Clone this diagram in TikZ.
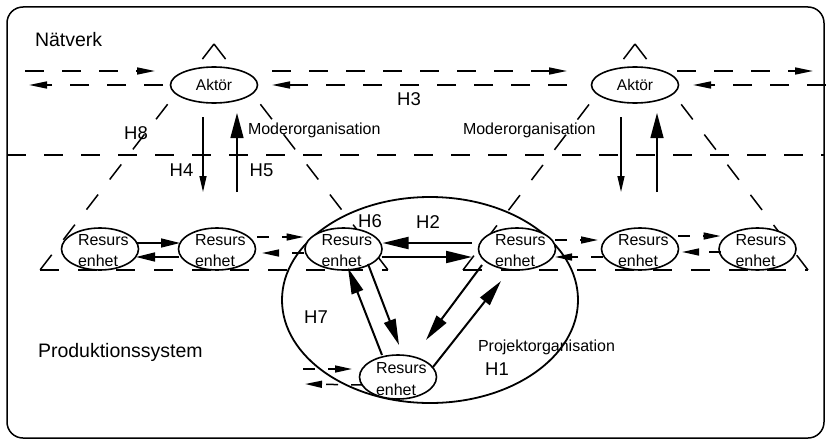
\documentclass[tikz,border=0pt]{standalone}
\usepackage{fontspec}
\setmainfont{Liberation Sans}
\usetikzlibrary{arrows.meta,calc,shapes.geometric}
\newcommand\ResNode[3]{%
  \node[res] (#1) at (#2,#3) {};
  \node[rtxt, anchor=base west] at ($(#1)+(-22,-3.5)$) {Resurs};
  \node[rtxt, anchor=base west] at ($(#1)+(-22,17.5)$) {enhet};}
\begin{document}
\begin{tikzpicture}[x=1pt,y=-1pt,
  every node/.style={inner sep=0pt, outer sep=0pt},
  frame/.style={line width=1.5pt, rounded corners=16pt},
  dline/.style={line width=1.6pt, dash pattern=on 19pt off 18pt},
  sdash/.style={line width=1.5pt, dash pattern=on 12pt off 13pt},
  tri/.style={line width=1.5pt, dash pattern=on 19pt off 19pt},
  res/.style={ellipse, draw, line width=1.6pt, fill=white, minimum width=77pt, minimum height=42pt},
  aktor/.style={ellipse, draw, line width=1.6pt, fill=white, minimum width=87pt, minimum height=36pt, font=\fontsize{15.5}{16}\selectfont},
  proj/.style={ellipse, draw, line width=1.8pt, minimum width=296pt, minimum height=206pt},
  rtxt/.style={font=\fontsize{16}{16}\selectfont},
  big/.style={font=\fontsize{19.5}{20}\selectfont},
  hlab/.style={font=\fontsize{18.5}{19}\selectfont},
  mlab/.style={font=\fontsize{16}{16}\selectfont},
  arS/.style={-{Triangle[length=18pt,width=7pt]}},
  arM/.style={-{Triangle[length=19pt,width=9pt]}},
  arT/.style={-{Triangle[length=16pt,width=7pt]}},
  arU/.style={-{Triangle[length=25pt,width=13pt]}},
  arB/.style={-{Triangle[length=26pt,width=12pt]}},
  arD/.style={-{Triangle[length=17pt,width=7pt]}},
  vthin/.style={line width=1.4pt},
  rowar/.style={line width=1.5pt},
  thickar/.style={line width=2pt}
]
\useasboundingbox (0,0) rectangle (826,444);
% frame
\draw[frame] (7,7) rectangle (824,438);
% network / production boundary
\draw[dline] (7,155) -- (824,155);
% triangles (Moderorganisation)
\coordinate (t1) at (214,44);
\coordinate (t1l) at (40,270);
\coordinate (t1r) at (388,270);
\coordinate (t2) at (635,44);
\coordinate (t2l) at (463,270);
\coordinate (t2r) at (808,270);
\draw[tri] (t1) -- (t1l);
\draw[tri] (t1) -- (t1r);
\draw[tri] (t1l) -- (t1r);
\draw[tri] (t2) -- (t2l);
\draw[tri] (t2) -- (t2r);
\draw[tri] (t2l) -- (t2r);
% project organisation
\node[proj] (po) at (430,300) {};
% actors
\node[aktor] (a1) at (214,85) {Aktör};
\node[aktor] (a2) at (635,85) {Aktör};
% resource units
\ResNode{r1}{100}{249}
\ResNode{r2}{217}{249}
\ResNode{r3}{343.5}{249}
\ResNode{r4}{517}{249}
\ResNode{r5}{640}{249}
\ResNode{r6}{757.5}{249}
\node[res, minimum height=44pt] (r7) at (398,377) {};
\node[rtxt, anchor=base west] at ($(r7)+(-22,-3.5)$) {Resurs};
\node[rtxt, anchor=base west] at ($(r7)+(-22,18)$) {enhet};
% network lines
\coordinate (L1s) at (25,71);
\coordinate (R1e) at (813,71);
\coordinate (L2e) at (29,85);
\coordinate (R2s) at (826,85);
\draw[dline, arS] (L1s) -- ($(a1)+(-59,-14)$);
\draw[dline, arS] ($(a1)+(58,-14)$) -- ($(a2)+(-68,-14)$);
\draw[dline, arS] ($(a2)+(42,-14)$) -- (R1e);
\draw[dline, arS] ($(a1)+(-51,0)$) -- (L2e);
\draw[dline, arS] ($(a2)+(-68,0)$) -- ($(a1)+(58,0)$);
\draw[dline, arS] (R2s) -- ($(a2)+(58,0)$);
% vertical arrows
\draw[vthin, arT] ($(a1)+(-11,32)$) -- ($(r2)+(-14,-57)$);
\draw[vthin, arU] ($(r2)+(20,-57)$) -- ($(a1)+(23,28)$);
\draw[vthin, arT] ($(a2)+(-14,32)$) -- ($(r5)+(-19,-57)$);
\draw[vthin, arU] ($(r5)+(17,-57)$) -- ($(a2)+(22,28)$);
% row arrows
\draw[rowar, arM] ($(r1)+(37,-6)$) -- ($(r2)+(-37,-6)$);
\draw[rowar, arM] ($(r2)+(-38,8)$) -- ($(r1)+(36,8)$);
\draw[sdash, arD] ($(r2)+(40,-12)$) -- ($(r3)+(-40,-12)$);
\draw[sdash, arD] ($(r3)+(-40,4)$) -- ($(r2)+(45,4)$);
\draw[thickar, arB] ($(r4)+(-45,-6)$) -- ($(r3)+(39,-6)$);
\draw[thickar, arB] ($(r3)+(38,8)$) -- ($(r4)+(-45,8)$);
\draw[sdash, arD] ($(r4)+(38,-9)$) -- ($(r5)+(-42,-9)$);
\draw[sdash, arD] ($(r5)+(-37,8)$) -- ($(r4)+(38,8)$);
\draw[sdash, arD] ($(r5)+(38,-13)$) -- ($(r6)+(-37,-13)$);
\draw[sdash, arD] ($(r6)+(-37,3)$) -- ($(r5)+(42,3)$);
% diagonal arrows
\draw[thickar, arB] ($(r7)+(-16,-22)$) -- ($(r3)+(4.5,19)$);
\draw[thickar, arB] ($(r3)+(24.5,15)$) -- ($(r7)+(1,-32)$);
\draw[thickar, arB] ($(r4)+(-35,16)$) -- ($(r7)+(28,-37)$);
\draw[thickar, arB] ($(r7)+(35,-10)$) -- ($(r4)+(-16,32)$);
% bottom unit external links
\coordinate (n7a) at (303,369);
\coordinate (n7b) at (305,384);
\draw[sdash, arD] (n7a) -- ($(r7)+(-46,-8)$);
\draw[sdash, arD] ($(r7)+(-35,8)$) -- (n7b);
% labels
\node[big, anchor=base west] at (35,47) {Nätverk};
\node[big, anchor=base west] at (38,357) {Produktionssystem};
\node[mlab, anchor=base west] at (248,134) {Moderorganisation};
\node[mlab, anchor=base west] at (463,134) {Moderorganisation};
\node[mlab, anchor=base west] at (478,351) {Projektorganisation};
\node[hlab] at (136,133) {H8};
\node[hlab] at (409,99) {H3};
\node[hlab] at (181.5,170) {H4};
\node[hlab] at (261.5,170) {H5};
\node[hlab] at (370,221) {H6};
\node[hlab] at (428,222) {H2};
\node[hlab] at (316,317) {H7};
\node[hlab] at (497,369) {H1};
\end{tikzpicture}
\end{document}
